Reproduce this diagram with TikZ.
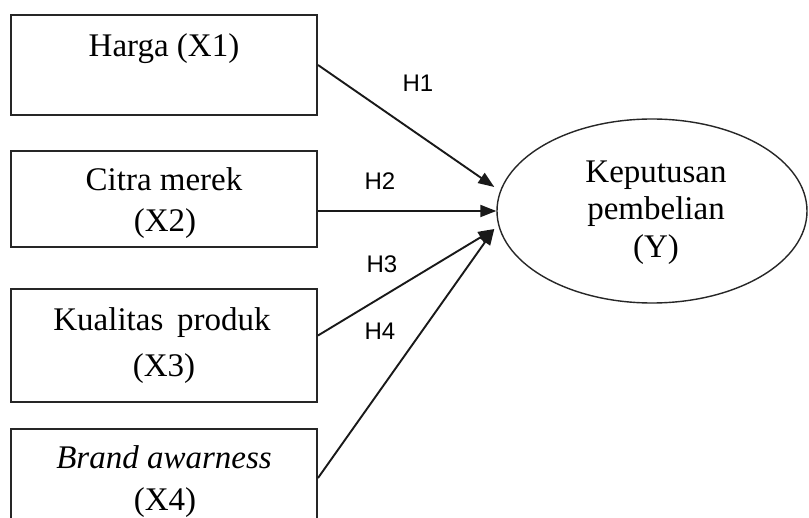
\documentclass[tikz,border=0pt]{standalone}
\usepackage{fontspec}
\setmainfont{Liberation Serif}
\newfontfamily\hfont{Liberation Sans}
\usetikzlibrary{shapes.geometric,arrows.meta}
\begin{document}
\begin{tikzpicture}[x=1pt,y=-1pt,
  box/.style={draw=black!85,line width=2pt,minimum width=306pt,inner sep=0pt},
  oval/.style={draw=black!85,ellipse,line width=1.4pt,minimum width=310pt,minimum height=184pt,inner sep=0pt},
  txt/.style={anchor=base,inner sep=0pt,font=\fontsize{33}{38}\selectfont},
  hlab/.style={anchor=base,inner sep=0pt,font=\hfont\fontsize{24}{28}\selectfont},
  arr/.style={line width=1.9pt,draw=black!90,-{Triangle[length=16pt,width=12pt]}}]
\clip (0,0) rectangle (809,518);
\fill[white] (0,0) rectangle (809,518);
% boxes
\node[box,minimum height=100pt] (x1) at (164,65) {};
\node[box,minimum height=96pt] (x2) at (164,199) {};
\node[box,minimum height=113pt] (x3) at (164,345.5) {};
\node[box,minimum height=112pt] (x4) at (164,485) {};
\node[oval] (y) at (652,211) {};
% texts
\node[txt] (t1) at (164,57) {Harga (X1)};
\node[txt] (t2a) at (164,190.5) {Citra merek};
\node[txt] (t2b) at (165,231.5) {(X2)};
\node[txt] (t3a) at (162,331) {Kualitas\, produk};
\node[txt] (t3b) at (164,377) {(X3)};
\node[txt] (t4a) at (164,468) {\itshape Brand awarness};
\node[txt] (t4b) at (165,510.5) {(X4)};
\node[txt] (ya) at (656,183) {Keputusan};
\node[txt] (yb) at (656,220) {pembelian};
\node[txt] (yc) at (656,258) {(Y)};
% arrows
\draw[arr] (x1.east) -- ([xshift=-2pt,yshift=24pt]y.west);
\draw[arr] ([yshift=-12pt]x2.east) -- (y.west);
\draw[arr] ([yshift=10pt]x3.east) -- ([xshift=-2pt,yshift=-18pt]y.west);
\draw[arr] ([yshift=7pt]x4.east) -- ([xshift=-2pt,yshift=-18pt]y.west);
% labels
\node[hlab] (h1) at (418,91.5) {H1};
\node[hlab] (h2) at (380,190) {H2};
\node[hlab] (h3) at (382,273) {H3};
\node[hlab] (h4) at (380,340) {H4};
\end{tikzpicture}
\end{document}
